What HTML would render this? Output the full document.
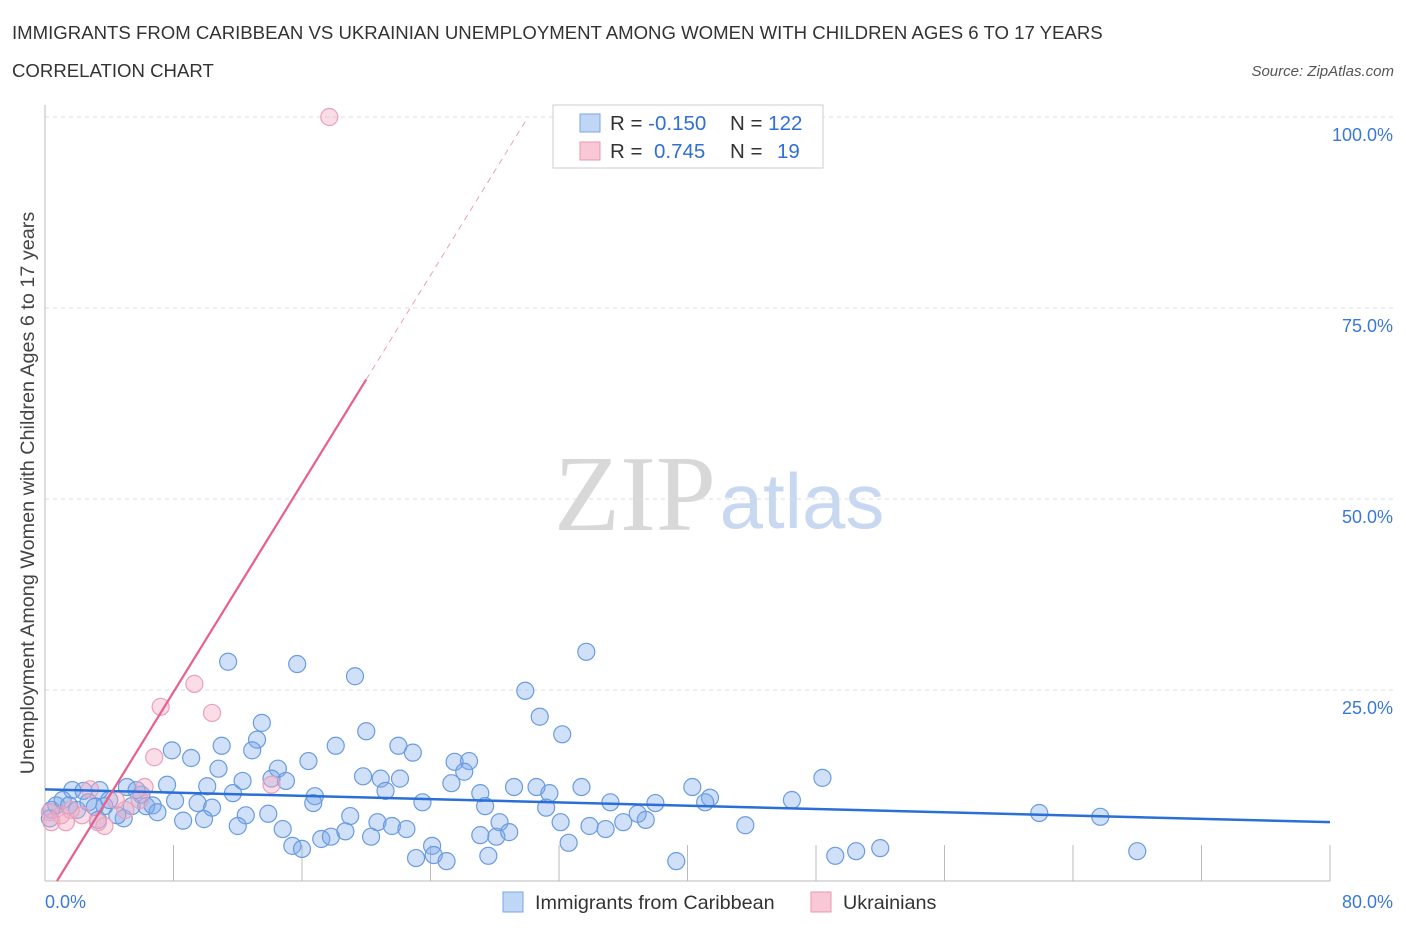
<!DOCTYPE html>
<html><head><meta charset="utf-8"><style>
body{margin:0;background:#fff;font-family:"Liberation Sans",sans-serif;}
svg{display:block}
</style></head><body>
<svg id="chart" width="1406" height="930">
<text x="12" y="39" font-size="18.6" fill="#333">IMMIGRANTS FROM CARIBBEAN VS UKRAINIAN UNEMPLOYMENT AMONG WOMEN WITH CHILDREN AGES 6 TO 17 YEARS</text>
<text x="12" y="77" font-size="18.6" fill="#333">CORRELATION CHART</text>
<text x="1394" y="76" font-size="15" fill="#555" font-style="italic" text-anchor="end">Source: ZipAtlas.com</text>
<text x="635" y="530" font-size="108" fill="#d8d8d8" font-family="Liberation Serif,serif" text-anchor="middle">ZIP</text>
<text x="802" y="528" font-size="78" fill="#c8d8f0" text-anchor="middle">atlas</text>
<text transform="translate(34,493) rotate(-90)" font-size="19.8" fill="#444" text-anchor="middle">Unemployment Among Women with Children Ages 6 to 17 years</text>
<g id="grid"></g><g id="marks"></g>
<g>
<rect x="553" y="105" width="270" height="63" fill="#fff" stroke="#ccc"/>
<rect x="580" y="114" width="20" height="18" fill="#c0d6f5" stroke="#7aa6e6"/>
<rect x="580" y="142" width="20" height="18" fill="#f8c8d6" stroke="#e899b2"/>
<text x="610" y="130" font-size="20.5" fill="#333">R = <tspan fill="#2f6fd6">-0.150</tspan></text>
<text x="730" y="130" font-size="20.5" fill="#333">N = <tspan fill="#2f6fd6">122</tspan></text>
<text x="610" y="158" font-size="20.5" fill="#333">R = <tspan fill="#2f6fd6" x="654">0.745</tspan></text>
<text x="730" y="158" font-size="20.5" fill="#333">N = <tspan fill="#2f6fd6" x="777">19</tspan></text>
</g>
<rect x="503" y="892" width="20" height="20" fill="#c0d6f5" stroke="#7aa6e6"/>
<text x="535" y="909" font-size="19.8" fill="#333">Immigrants from Caribbean</text>
<rect x="811" y="892" width="20" height="20" fill="#f8c8d6" stroke="#e899b2"/>
<text x="843" y="909" font-size="19.8" fill="#333">Ukrainians</text>
</svg>
<script>
const yTicks=[25,50,75,100];
const yTickLabels=["25.0%","50.0%","75.0%","100.0%"];
const xTickLabels=["0.0%","80.0%"];
const blueX=[11.4,15.7,19.3,33.7,29.9,30.8,32.2,13.5,13.2,20.0,18.1,22.0,22.9,11.0,12.9,7.9,9.1,16.4,25.5,26.4,26.1,10.8,14.5,19.8,20.9,22.1,12.3,14.1,15.0,7.6,10.1,5.1,3.4,1.7,2.4,21.2,16.8,11.7,25.3,27.1,29.2,30.6,33.4,31.4,40.3,48.4,41.4,41.1,46.5,38.0,35.2,23.5,27.4,31.2,8.1,9.5,10.4,16.7,19.0,12.5,13.9,8.6,9.9,12.0,14.8,18.7,20.7,21.6,22.5,20.3,17.2,17.8,15.4,16.0,23.1,24.1,24.2,25.0,27.1,28.1,28.3,28.9,27.6,32.6,32.1,33.9,34.9,36.0,36.9,37.4,39.3,43.6,49.2,50.5,52.0,61.9,65.7,68.0,0.4,0.7,1.1,1.5,2.0,2.7,3.1,3.7,4.0,4.9,4.5,3.3,5.4,6.0,6.3,6.7,7.0,5.7,0.3];
const blueY=[28.7,28.4,26.8,30.0,24.9,21.5,19.2,20.7,18.5,19.6,17.7,17.7,16.8,17.7,17.1,17.1,16.1,15.7,15.6,15.7,14.3,14.7,14.7,13.7,13.4,13.4,13.1,13.4,13.1,12.6,12.4,12.3,11.9,11.9,11.8,11.8,11.1,11.5,12.8,11.5,12.3,12.3,12.3,11.5,12.3,13.5,10.9,10.3,10.6,10.2,10.3,10.3,9.8,9.6,10.5,10.2,9.6,10.2,8.5,8.6,8.8,7.9,8.1,7.2,6.8,6.5,7.7,7.2,6.8,5.8,5.5,5.8,4.6,4.2,3.0,4.6,3.4,2.6,6.0,5.8,7.7,6.4,3.3,5.0,7.7,7.2,6.8,7.7,8.8,8.0,2.6,7.3,3.3,3.9,4.3,8.9,8.4,3.9,9.3,9.9,10.6,9.9,9.3,10.3,9.7,9.8,10.6,8.2,8.6,8.0,9.8,11.3,9.8,9.9,9.0,11.9,8.2];
const pinkX=[17.7,9.3,7.2,10.4,6.8,6.2,2.8,14.1,0.3,1.0,1.6,2.3,3.7,3.3,5.0,4.4,0.4,1.3,5.9];
const pinkY=[100,25.8,22.8,22.0,16.2,12.3,12.0,12.6,9.0,8.6,9.3,8.6,7.2,7.7,9.3,10.6,7.7,7.7,10.6];
const blueTrend=[12.0,7.7];
const pinkSlope=3.41, pinkIntercept=-2.55;

const X=v=>45+v*(1330-45)/80;
const Y=v=>881-v*(881-117)/100;
const NS="http://www.w3.org/2000/svg";
function mk(tag,attrs,parent){const e=document.createElementNS(NS,tag);for(const k in attrs)e.setAttribute(k,attrs[k]);parent.appendChild(e);return e;}
const grid=document.getElementById('grid'),marks=document.getElementById('marks');
yTicks.forEach((t,i)=>{
 const l=mk('line',{x1:45,x2:1395,y1:Y(t),y2:Y(t),stroke:'#ddd','stroke-dasharray':'4,4'},grid);
 
 
 const tx=mk('text',{x:1393,y:Y(t)+24,'font-size':18,fill:'#3a78d8','text-anchor':'end'},grid);
 tx.textContent=yTickLabels[i];
 
 
});
const ax=mk('line',{x1:45,x2:1330,y1:881,y2:881,stroke:'#bbb'},grid);


const ay=mk('line',{x1:45,x2:45,y1:105,y2:881,stroke:'#bbb'},grid);


for(let i=1;i<=10;i++){
 const t=mk('line',{x1:X(i*8),x2:X(i*8),y1:845,y2:881,stroke:'#bbb'},grid);
 
 
}
[[0,45,'start'],[80,1393,'end']].forEach((d,i)=>{
 const tx=mk('text',{x:d[1],y:908,'font-size':18,fill:'#3a78d8','text-anchor':d[2]},grid);
 tx.textContent=xTickLabels[i];
 
 
});
blueX.forEach((v,i)=>{
 const c=mk('circle',{cx:X(v),cy:Y(blueY[i]),r:8.5,fill:'rgba(120,165,235,0.35)',stroke:'#6a9be0','stroke-width':1.2},marks);
 
 
});
pinkX.forEach((v,i)=>{
 const c=mk('circle',{cx:X(v),cy:Y(pinkY[i]),r:8.5,fill:'rgba(245,170,195,0.4)',stroke:'#eaa0b8','stroke-width':1.2},marks);
 
 
});
const bl=mk('line',{x1:X(0),y1:Y(blueTrend[0]),x2:X(80),y2:Y(blueTrend[1]),stroke:'#2a6fd6','stroke-width':2.5},marks);


const x0=-pinkIntercept/pinkSlope, x1=20, x2=(100-pinkIntercept)/pinkSlope;
const pl=mk('line',{x1:X(x0),y1:Y(0),x2:X(x1),y2:Y(pinkSlope*x1+pinkIntercept),stroke:'#e8608a','stroke-width':2.2},marks);


const pd=mk('line',{x1:X(x1),y1:Y(pinkSlope*x1+pinkIntercept),x2:X(x2),y2:Y(100),stroke:'#eaa0b8','stroke-width':1,'stroke-dasharray':'6,5'},marks);


</script>
</body></html>
